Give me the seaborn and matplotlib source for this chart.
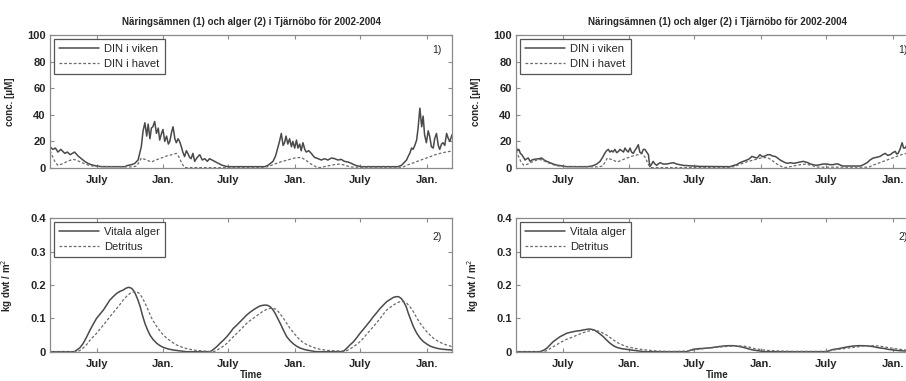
import matplotlib
matplotlib.use("Agg")
import matplotlib.pyplot as plt
import seaborn as sns
import pandas as pd

# Time axis: day number counted from 2002-01-01
XLIM = (52, 1166)
TICK_DAYS = [181, 365, 546, 730, 912, 1096]
TICK_LABELS = ["July", "Jan.", "July", "Jan.", "July", "Jan."]

TITLE = "Näringsämnen (1) och alger (2) i Tjärnöbo för 2002-2004"

# Dissolved inorganic nitrogen, bay (left scenario) [uM]
DIN_BAY_LEFT = [
    (52, 16), (60, 14), (67, 15), (74, 12), (82, 14), (93, 11), (100, 12), (108, 10),
    (114, 11), (120, 12), (130, 9), (139, 7), (148, 5), (157, 3.5), (166, 2.5), (176, 1.8),
    (194, 1), (259, 1), (268, 2), (278, 2.5), (287, 3.5), (296, 6), (305, 16), (310, 28),
    (315, 34), (320, 24), (324, 33), (329, 22), (333, 30), (337, 31), (342, 35), (347, 26),
    (352, 30), (356, 21), (361, 26), (365, 29), (370, 20), (375, 24), (380, 18), (384, 20),
    (389, 27), (393, 31), (398, 22), (402, 19), (407, 22), (411, 20), (416, 16), (420, 12),
    (425, 8.6), (430, 13), (434, 11), (439, 8), (443, 7), (448, 11), (453, 5), (460, 8),
    (467, 10), (474, 6), (481, 7), (488, 5), (494, 7), (501, 6), (508, 5), (518, 3.5),
    (527, 2.3), (536, 1.5), (545, 1), (647, 1), (656, 2), (663, 3.5), (670, 5), (677, 9),
    (684, 16), (688, 20), (693, 26), (698, 17), (702, 19), (706, 24), (711, 18), (716, 22),
    (721, 16), (725, 20), (730, 15), (735, 21), (739, 15), (744, 18), (748, 13), (753, 19),
    (758, 14), (762, 12), (769, 13), (776, 11), (785, 8), (795, 7), (804, 6), (813, 7),
    (822, 6), (832, 7.5), (841, 7), (850, 6), (859, 6.5), (868, 5), (878, 4.5), (887, 3.5),
    (896, 2.3), (905, 1.5), (915, 1), (1016, 1), (1026, 2), (1033, 4), (1040, 6), (1045, 9),
    (1049, 11), (1054, 15), (1058, 14), (1063, 17), (1068, 21), (1072, 30), (1077, 45),
    (1082, 31), (1086, 39), (1090, 25), (1095, 19), (1100, 28), (1104, 24), (1109, 16),
    (1114, 15), (1118, 22), (1123, 26), (1128, 17), (1132, 14), (1137, 18), (1141, 19),
    (1146, 17), (1151, 26), (1156, 22), (1160, 20), (1166, 25),
]

# Dissolved inorganic nitrogen, bay (right scenario) [uM]
DIN_BAY_RIGHT = [
    (52, 16), (56, 13), (60, 14), (64, 11), (68, 10), (73, 8), (77, 6), (82, 7), (86, 7.5),
    (91, 5), (96, 6), (102, 6.5), (109, 6.8), (116, 7), (123, 7.5), (130, 6), (137, 5),
    (146, 4), (155, 3), (165, 2.2), (174, 1.8), (192, 1), (248, 1), (257, 1.2), (266, 1.8),
    (276, 3), (285, 5), (292, 8), (298, 11), (303, 13), (308, 14), (312, 12), (317, 13),
    (321, 12), (326, 14), (331, 11.5), (336, 12.5), (340, 14), (345, 13), (350, 12),
    (354, 15), (359, 13), (363, 12), (368, 15), (372, 12), (377, 11), (381, 13), (386, 15),
    (391, 17.5), (395, 12), (400, 11), (405, 14), (409, 14), (414, 12), (419, 10), (421, 5),
    (423, 1), (428, 3), (432, 5), (437, 3), (442, 2), (446, 3), (451, 4), (460, 3), (469, 3),
    (478, 3.5), (488, 4), (497, 3), (506, 2.5), (515, 2), (525, 1.8), (545, 1.5), (562, 1.2),
    (645, 1), (654, 1.8), (663, 2.5), (673, 4), (682, 5), (692, 6), (699, 7), (706, 8.75),
    (713, 8), (720, 7.5), (728, 10), (735, 8.5), (742, 9), (749, 10), (756, 10), (763, 9),
    (770, 8.75), (777, 7.5), (784, 6), (791, 5), (798, 4), (805, 3.5), (812, 4), (822, 3.5),
    (831, 4), (840, 4.5), (848, 5), (855, 4.5), (861, 4), (868, 3), (875, 2.5), (884, 2),
    (894, 2.5), (904, 3), (914, 3), (922, 2.5), (931, 2.5), (938, 3), (945, 3), (952, 2),
    (959, 1.5), (1006, 1.5), (1015, 2.5), (1025, 4), (1033, 6), (1042, 7.5), (1051, 8),
    (1061, 8.75), (1068, 10), (1075, 11), (1082, 9.5), (1089, 10), (1096, 11.5),
    (1103, 12.5), (1107, 10.5), (1111, 11), (1116, 14), (1122, 19), (1126, 15), (1130, 15),
    (1135, 17), (1140, 16), (1145, 18), (1150, 19), (1155, 17), (1160, 20), (1166, 19),
]

# Dissolved inorganic nitrogen at the open-sea boundary [uM]
DIN_SEA = [
    (52, 13), (60, 8), (67, 4), (74, 2), (85, 3), (100, 5), (115, 6.5), (125, 6), (140, 4),
    (160, 2), (176, 1.2), (280, 0.8), (292, 1.5), (298, 4), (305, 7.5), (320, 6), (333, 4.5),
    (345, 6), (360, 7.5), (375, 9), (390, 10), (402, 11), (410, 8), (418, 3), (425, 0.3),
    (640, 0.3), (656, 1), (670, 2.5), (690, 4.5), (710, 6), (730, 7.5), (748, 8), (760, 6),
    (775, 3), (790, 0.8), (800, 0.3), (820, 1.5), (840, 2.5), (856, 3), (870, 2), (884, 0.8),
    (900, 0.6), (1030, 0.6), (1040, 2), (1060, 4), (1080, 6), (1100, 8), (1120, 10),
    (1140, 11.5), (1160, 12.5), (1166, 12.5),
]

# Living algae and detritus [kg dwt / m2], left scenario
ALGAE_LEFT = [
    (52, 0), (120, 0), (126, 0.005), (135, 0.012), (144, 0.025), (153, 0.043), (163, 0.065),
    (172, 0.083), (181, 0.10), (190, 0.112), (200, 0.125), (209, 0.14), (218, 0.155),
    (228, 0.166), (237, 0.175), (246, 0.181), (255, 0.185), (262, 0.19), (269, 0.193),
    (274, 0.192), (278, 0.19), (283, 0.184), (288, 0.175), (295, 0.157), (302, 0.135),
    (308, 0.11), (315, 0.085), (322, 0.066), (329, 0.05), (338, 0.036), (348, 0.025),
    (357, 0.018), (366, 0.013), (380, 0.008), (394, 0.005), (408, 0.003), (422, 0.001),
    (430, 0), (496, 0), (505, 0.007), (514, 0.015), (523, 0.025), (533, 0.035), (542, 0.045),
    (551, 0.057), (560, 0.07), (570, 0.08), (579, 0.09), (588, 0.1), (597, 0.11),
    (606, 0.118), (615, 0.125), (625, 0.132), (634, 0.137), (641, 0.139), (648, 0.14),
    (655, 0.139), (662, 0.135), (669, 0.127), (676, 0.115), (683, 0.1), (690, 0.085),
    (699, 0.064), (708, 0.045), (718, 0.032), (727, 0.023), (736, 0.016), (745, 0.011),
    (759, 0.006), (773, 0.003), (790, 0), (864, 0), (874, 0.01), (883, 0.02), (893, 0.03),
    (902, 0.042), (911, 0.055), (921, 0.068), (930, 0.08), (939, 0.092), (948, 0.105),
    (958, 0.118), (967, 0.13), (976, 0.14), (985, 0.15), (995, 0.157), (1004, 0.163),
    (1011, 0.165), (1018, 0.165), (1025, 0.16), (1032, 0.15), (1039, 0.135), (1045, 0.115),
    (1052, 0.095), (1059, 0.075), (1068, 0.056), (1078, 0.04), (1087, 0.03), (1096, 0.023),
    (1105, 0.017), (1115, 0.013), (1129, 0.009), (1143, 0.007), (1166, 0.005),
]
DETRITUS_LEFT = [
    (52, 0), (128, 0), (135, 0.004), (145, 0.012), (154, 0.022), (163, 0.035), (172, 0.045),
    (181, 0.055), (190, 0.067), (200, 0.08), (209, 0.092), (218, 0.105), (228, 0.118),
    (237, 0.13), (246, 0.142), (255, 0.155), (264, 0.166), (274, 0.175), (283, 0.179),
    (292, 0.18), (299, 0.175), (306, 0.165), (313, 0.151), (320, 0.135), (327, 0.117),
    (334, 0.1), (341, 0.087), (348, 0.075), (357, 0.062), (366, 0.05), (376, 0.04),
    (385, 0.033), (394, 0.026), (403, 0.02), (417, 0.014), (431, 0.009), (450, 0.005),
    (468, 0.003), (490, 0.001), (505, 0), (514, 0.004), (523, 0.01), (533, 0.017),
    (542, 0.025), (551, 0.035), (560, 0.045), (570, 0.055), (579, 0.065), (588, 0.075),
    (597, 0.085), (606, 0.093), (615, 0.1), (625, 0.108), (634, 0.115), (643, 0.122),
    (653, 0.127), (662, 0.13), (671, 0.13), (678, 0.127), (685, 0.12), (692, 0.11),
    (699, 0.1), (708, 0.085), (717, 0.07), (727, 0.057), (736, 0.045), (745, 0.035),
    (754, 0.027), (764, 0.021), (773, 0.017), (787, 0.011), (801, 0.007), (820, 0.004),
    (838, 0.003), (856, 0.002), (874, 0.003), (883, 0.008), (893, 0.015), (902, 0.022),
    (911, 0.03), (921, 0.041), (930, 0.053), (939, 0.064), (948, 0.075), (958, 0.088),
    (967, 0.1), (976, 0.113), (985, 0.125), (995, 0.133), (1004, 0.14), (1013, 0.146),
    (1022, 0.15), (1031, 0.15), (1041, 0.145), (1050, 0.134), (1059, 0.12), (1068, 0.102),
    (1078, 0.085), (1087, 0.072), (1096, 0.06), (1105, 0.05), (1115, 0.04), (1129, 0.03),
    (1143, 0.023), (1155, 0.019), (1166, 0.015),
]

# Living algae and detritus [kg dwt / m2], right scenario
ALGAE_RIGHT = [
    (52, 0), (118, 0), (128, 0.004), (137, 0.01), (146, 0.02), (155, 0.03), (165, 0.038),
    (174, 0.045), (183, 0.05), (192, 0.055), (202, 0.058), (211, 0.06), (220, 0.062),
    (229, 0.063), (238, 0.065), (248, 0.067), (255, 0.068), (262, 0.067), (269, 0.065),
    (276, 0.06), (285, 0.053), (294, 0.045), (303, 0.035), (313, 0.025), (322, 0.018),
    (331, 0.013), (345, 0.009), (359, 0.007), (372, 0.005), (386, 0.003), (400, 0.001),
    (410, 0), (525, 0), (534, 0.004), (543, 0.007), (557, 0.009), (571, 0.01), (585, 0.011),
    (599, 0.013), (613, 0.015), (627, 0.017), (640, 0.018), (654, 0.018), (664, 0.017),
    (673, 0.015), (682, 0.013), (692, 0.01), (701, 0.007), (710, 0.005), (728, 0.002),
    (745, 0), (913, 0), (922, 0.004), (932, 0.007), (945, 0.009), (959, 0.012), (973, 0.015),
    (987, 0.017), (1001, 0.018), (1015, 0.018), (1029, 0.017), (1043, 0.015), (1056, 0.012),
    (1070, 0.01), (1084, 0.007), (1098, 0.005), (1116, 0.003), (1134, 0.002), (1166, 0.001),
]
DETRITUS_RIGHT = [
    (52, 0), (128, 0), (137, 0.003), (146, 0.009), (155, 0.015), (165, 0.021), (174, 0.027),
    (183, 0.032), (192, 0.037), (202, 0.041), (211, 0.045), (220, 0.049), (229, 0.053),
    (238, 0.057), (248, 0.06), (257, 0.063), (266, 0.065), (276, 0.063), (285, 0.06),
    (294, 0.055), (303, 0.05), (313, 0.042), (322, 0.035), (331, 0.029), (340, 0.023),
    (350, 0.019), (359, 0.015), (372, 0.012), (386, 0.009), (405, 0.006), (423, 0.004),
    (446, 0.002), (469, 0.001), (500, 0.001), (525, 0.002), (543, 0.005), (557, 0.007),
    (571, 0.009), (585, 0.011), (599, 0.012), (613, 0.014), (627, 0.015), (640, 0.016),
    (654, 0.017), (668, 0.017), (682, 0.017), (692, 0.015), (701, 0.013), (710, 0.01),
    (719, 0.008), (733, 0.006), (747, 0.004), (766, 0.003), (784, 0.002), (820, 0.001),
    (913, 0.001), (932, 0.005), (945, 0.007), (959, 0.009), (973, 0.011), (987, 0.013),
    (1001, 0.015), (1015, 0.017), (1029, 0.018), (1043, 0.018), (1056, 0.017), (1070, 0.015),
    (1084, 0.012), (1098, 0.01), (1116, 0.007), (1134, 0.005), (1166, 0.003),
]

DIN_LABELS = ["DIN i viken", "DIN i havet"]
ALGAE_LABELS = ["Vitala alger", "Detritus"]

sns.set_theme(style="ticks")
plt.rcParams["font.family"] = ["Liberation Sans", "DejaVu Sans"]

SOLID_COLOR = "#4a4a4a"
DASH_COLOR = "#6a6a6a"
AXIS_COLOR = "#8a8a8a"


def to_frame(pairs):
    return pd.DataFrame(pairs, columns=["day", "value"])


def style_axes(ax, yticks, yticklabels, ylim):
    ax.set_xlim(*XLIM)
    ax.set_ylim(*ylim)
    ax.set_xticks(TICK_DAYS)
    ax.set_xticklabels(TICK_LABELS)
    ax.set_yticks(yticks)
    ax.set_yticklabels(yticklabels)
    for side in ax.spines.values():
        side.set_visible(True)
        side.set_color(AXIS_COLOR)
        side.set_linewidth(0.9)
    ax.tick_params(direction="in", top=True, right=True, length=3, width=0.8,
                   color=AXIS_COLOR, labelsize=8, pad=3)
    ax.tick_params(axis="x", pad=5)
    for lab in ax.get_xticklabels() + ax.get_yticklabels():
        lab.set_fontweight("bold")
    ax.set_xlabel("")
    ax.set_ylabel("")


def draw_pair(ax, solid, dashed, labels):
    s = to_frame(solid)
    d = to_frame(dashed)
    sns.lineplot(data=s, x="day", y="value", ax=ax, color=SOLID_COLOR, lw=1.1,
                 label=labels[0], estimator=None, sort=False)
    sns.lineplot(data=d, x="day", y="value", ax=ax, color=DASH_COLOR, lw=0.9,
                 dashes=False, label=labels[1], estimator=None, sort=False)
    ax.lines[-1].set_dashes([2.2, 1.6])
    leg = ax.legend(loc="upper left", fontsize=8, frameon=True, fancybox=False,
                    handlelength=3.6, handletextpad=0.5, borderpad=0.45,
                    labelspacing=0.45, borderaxespad=0.35)
    leg.get_frame().set_edgecolor("#555555")
    leg.get_frame().set_linewidth(0.9)
    leg.get_frame().set_alpha(1)


fig = plt.figure(figsize=(9.06, 3.81), dpi=100)
W, H = 906.0, 381.0
panels = {}
for col, x0 in (("left", 50), ("right", 516)):
    ax_top = fig.add_axes([x0 / W, (H - 168) / H, 402 / W, 133 / H])
    ax_bot = fig.add_axes([x0 / W, (H - 351.7) / H, 402 / W, 133.4 / H])
    panels[col] = (ax_top, ax_bot)

series = {
    "left": (DIN_BAY_LEFT, DIN_SEA, ALGAE_LEFT, DETRITUS_LEFT),
    "right": (DIN_BAY_RIGHT, DIN_SEA, ALGAE_RIGHT, DETRITUS_RIGHT),
}

for col, (ax_top, ax_bot) in panels.items():
    bay, sea, alg, det = series[col]
    draw_pair(ax_top, bay, sea, DIN_LABELS)
    style_axes(ax_top, [0, 20, 40, 60, 80, 100], ["0", "20", "40", "60", "80", "100"], (0, 100))
    ax_top.set_title(TITLE, fontsize=7, fontweight="bold", pad=7)
    ax_top.set_ylabel("conc. [\u03bcM]", fontsize=7, fontweight="bold")
    ax_top.yaxis.set_label_coords(-0.088, 0.5)
    ax_top.text(0.963, 0.885, "1)", transform=ax_top.transAxes, fontsize=7.5,
                ha="center", va="center")

    draw_pair(ax_bot, alg, det, ALGAE_LABELS)
    style_axes(ax_bot, [0, 0.1, 0.2, 0.3, 0.4], ["0", "0.1", "0.2", "0.3", "0.4"], (0, 0.4))
    ax_bot.set_ylabel("kg dwt / m$^{2}$", fontsize=7, fontweight="bold")
    ax_bot.yaxis.set_label_coords(-0.088, 0.5)
    ax_bot.set_xlabel("Time", fontsize=7, fontweight="bold")
    ax_bot.xaxis.set_label_coords(0.5, -0.135)
    ax_bot.text(0.962, 0.862, "2)", transform=ax_bot.transAxes, fontsize=7.5,
                ha="center", va="center")

fig.savefig("out.png", dpi=100)
